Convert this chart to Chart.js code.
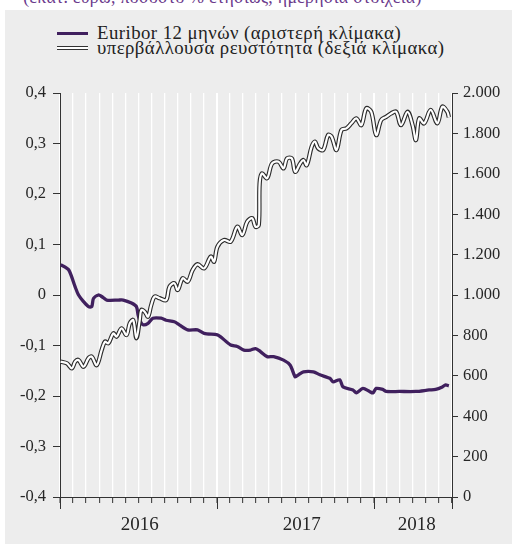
<!DOCTYPE html>
<html>
<head>
<meta charset="utf-8">
<script src="https://cdn.jsdelivr.net/npm/chart.js@4"></script>
<style>
html,body{margin:0;padding:0;background:#fff;}
#wrap{position:relative;width:512px;height:544px;overflow:hidden;font-family:"Liberation Serif","Times New Roman",Times,serif;}
#panel{position:absolute;left:5px;top:10px;right:0;bottom:0;background:#ededed;}
#ttl{position:absolute;left:0;width:445px;text-align:center;top:-13px;font-size:17.8px;letter-spacing:0.3px;color:#6b3a8c;white-space:nowrap;font-family:"Liberation Serif","Times New Roman",serif;}
.leg{position:absolute;left:97px;font-size:18.8px;letter-spacing:0.45px;color:#222;white-space:nowrap;line-height:18px;font-family:"Liberation Serif","Times New Roman",serif;}
.sw{position:absolute;left:57px;width:31px;}
#c{position:absolute;left:0;top:0;}
</style>
</head>
<body>
<div id="wrap">
<div id="panel"></div>
<div id="ttl">(εκατ. ευρώ, ποσοστό % ετησίως, ημερήσια στοιχεία)</div>
<div class="sw" style="top:32px;height:3px;background:#40205e;"></div>
<div class="sw" style="top:46px;height:2px;border-top:1px solid #333;border-bottom:1px solid #333;background:#fff;"></div>
<div class="leg" style="top:24px;">Euribor 12 μηνών (αριστερή κλίμακα)</div>
<div class="leg" style="top:39px;">υπερβάλλουσα ρευστότητα (δεξιά κλίμακα)</div>
<canvas id="c" width="512" height="544"></canvas>
</div>
<script>
// time positions in months since 1 Jan 2016
const euriborT = [0.05,0.66,1.16,1.42,1.80,2.18,2.43,2.56,2.94,3.19,3.57,4.46,4.84,5.47,5.85,5.98,6.10,6.36,6.74,7.11,7.74,8.12,8.75,9.13,9.77,10.53,11.03,12.05,12.30,13.06,13.57,14.07,14.58,14.96,15.34,15.85,16.35,17.11,17.62,18.00,18.25,18.63,19.39,19.89,20.65,20.90,21.41,21.66,22.42,22.68,23.18,23.69,23.94,24.20,24.70,24.96,25.97,27.24,28.25,28.75,29.26,29.51,29.76];
const euriborV = [0.060,0.050,0.016,0.000,-0.013,-0.023,-0.023,-0.007,0.000,-0.003,-0.010,-0.010,-0.010,-0.016,-0.023,-0.040,-0.050,-0.059,-0.056,-0.046,-0.046,-0.050,-0.053,-0.059,-0.069,-0.069,-0.076,-0.079,-0.083,-0.099,-0.102,-0.109,-0.109,-0.106,-0.112,-0.122,-0.122,-0.129,-0.139,-0.162,-0.158,-0.152,-0.152,-0.158,-0.165,-0.172,-0.168,-0.182,-0.188,-0.194,-0.185,-0.191,-0.194,-0.185,-0.187,-0.191,-0.191,-0.191,-0.188,-0.187,-0.182,-0.178,-0.180];

const liqT = [0.05,0.53,0.91,1.16,1.42,1.80,2.18,2.43,2.81,3.19,3.44,3.70,4.08,4.33,4.71,5.09,5.34,5.60,5.85,6.10,6.23,6.48,6.74,6.98,7.24,7.62,8.12,8.38,8.75,9.01,9.39,9.77,10.15,10.53,11.03,11.54,11.79,12.05,12.55,13.06,13.57,13.95,14.33,14.71,14.96,15.21,15.28,15.46,15.85,16.23,16.73,17.11,17.37,17.74,18.00,18.38,18.63,18.88,19.26,19.51,19.76,20.14,20.52,20.78,21.16,21.54,21.92,22.30,22.68,23.06,23.44,23.82,24.20,24.58,24.96,25.34,25.72,26.10,26.60,26.98,27.24,27.49,27.87,28.37,28.88,29.26,29.64,29.76];
const liqV = [670,662,637,670,678,645,687,695,653,728,769,761,810,794,835,802,860,876,786,876,926,917,893,950,992,984,975,1041,1058,1025,1083,1066,1124,1152,1132,1190,1165,1239,1272,1264,1338,1297,1363,1380,1338,1346,1553,1602,1578,1651,1660,1627,1676,1676,1610,1651,1668,1643,1734,1759,1726,1718,1792,1784,1718,1817,1825,1850,1874,1841,1924,1907,1792,1866,1882,1899,1907,1841,1907,1841,1767,1874,1850,1916,1850,1932,1907,1880];

const leftTickValues = [-0.4,-0.3,-0.2,-0.1,0,0.1,0.2,0.3,0.4];
const leftTickLabels = ["-0,4","-0,3","-0,2","-0,1","0","0,1","0,2","0,3","0,4"];
const rightTickValues = [0,200,400,600,800,1000,1200,1400,1600,1800,2000];
const rightTickLabels = ["0","200","400","600","800","1.000","1.200","1.400","1.600","1.800","2.000"];
const yearLabels = ["2016","2017","2018"];
const yearLabelAt = [6.1,18.5,27.3];
const yearBounds = [0,12,24,30];

const pts = (t,v)=>t.map((x,i)=>({x:x,y:v[i]}));
const FONT = "'Liberation Serif','Times New Roman',serif";
const TXT = '#262626';

const yearTicks = {
  id:'yearTicks',
  afterDraw(chart){
    const s = chart.scales.x, ctx = chart.ctx, b = chart.chartArea.bottom;
    ctx.save(); ctx.strokeStyle='#333'; ctx.lineWidth=1;
    yearBounds.forEach(v=>{const px=Math.round(s.getPixelForValue(v))+0.5;
      ctx.beginPath(); ctx.moveTo(px,b); ctx.lineTo(px,b+12); ctx.stroke();});
    ctx.restore();
  }
};

new Chart(document.getElementById('c'),{
  type:'line',
  data:{datasets:[
    {data:pts(liqT,liqV),yAxisID:'yR',borderColor:'#ffffff',borderWidth:2.2,pointRadius:0,tension:0.35,order:0},
    {data:pts(liqT,liqV),yAxisID:'yR',borderColor:'#2b2b2b',borderWidth:4.4,pointRadius:0,tension:0.35,order:1},
    {data:pts(euriborT,euriborV),yAxisID:'yL',borderColor:'#40205e',borderWidth:3.3,pointRadius:0,tension:0.25,order:2}
  ]},
  options:{
    responsive:false,animation:false,devicePixelRatio:1,
    layout:{padding:{top:93,left:0,right:0,bottom:0}},
    plugins:{legend:{display:false},tooltip:{enabled:false}},
    scales:{
      x:{type:'linear',position:'bottom',min:0,max:30,weight:0,
        afterBuildTicks:a=>{a.ticks=[];for(let i=0;i<=30;i++)a.ticks.push({value:i});},
        ticks:{display:false},
        grid:{color:'#ffffff',lineWidth:c=>(c.tick&&c.tick.value%12===0)?2:1.3,tickColor:'#333',tickLength:6,tickWidth:1},
        border:{color:'#333',width:1},
        afterFit:s=>{s.height=9;}},
      xYears:{type:'linear',position:'bottom',min:0,max:30,weight:1,
        afterBuildTicks:a=>{a.ticks=yearLabelAt.map(v=>({value:v}));},
        ticks:{autoSkip:false,maxRotation:0,padding:0,color:TXT,font:{family:FONT,size:19},
          callback:(v,i)=>yearLabels[i]},
        grid:{display:false},border:{display:false},
        afterFit:s=>{s.height=38;}},
      yL:{type:'linear',position:'left',min:-0.4,max:0.4,
        afterBuildTicks:a=>{a.ticks=leftTickValues.map(v=>({value:v}));},
        ticks:{autoSkip:false,padding:7,color:TXT,font:{family:FONT,size:16.5},callback:(v,i)=>leftTickLabels[i]},
        grid:{drawOnChartArea:false,tickColor:'#333',tickLength:7},
        border:{color:'#333',width:1},
        afterFit:s=>{s.width=60;}},
      yR:{type:'linear',position:'right',min:0,max:2000,
        afterBuildTicks:a=>{a.ticks=rightTickValues.map(v=>({value:v}));},
        ticks:{autoSkip:false,padding:5,color:TXT,font:{family:FONT,size:16.5},callback:(v,i)=>rightTickLabels[i]},
        grid:{drawOnChartArea:false,tickColor:'#333',tickLength:6},
        border:{color:'#333',width:1},
        afterFit:s=>{s.width=60;}}
    }
  },
  plugins:[yearTicks]
});
</script>
</body>
</html>
